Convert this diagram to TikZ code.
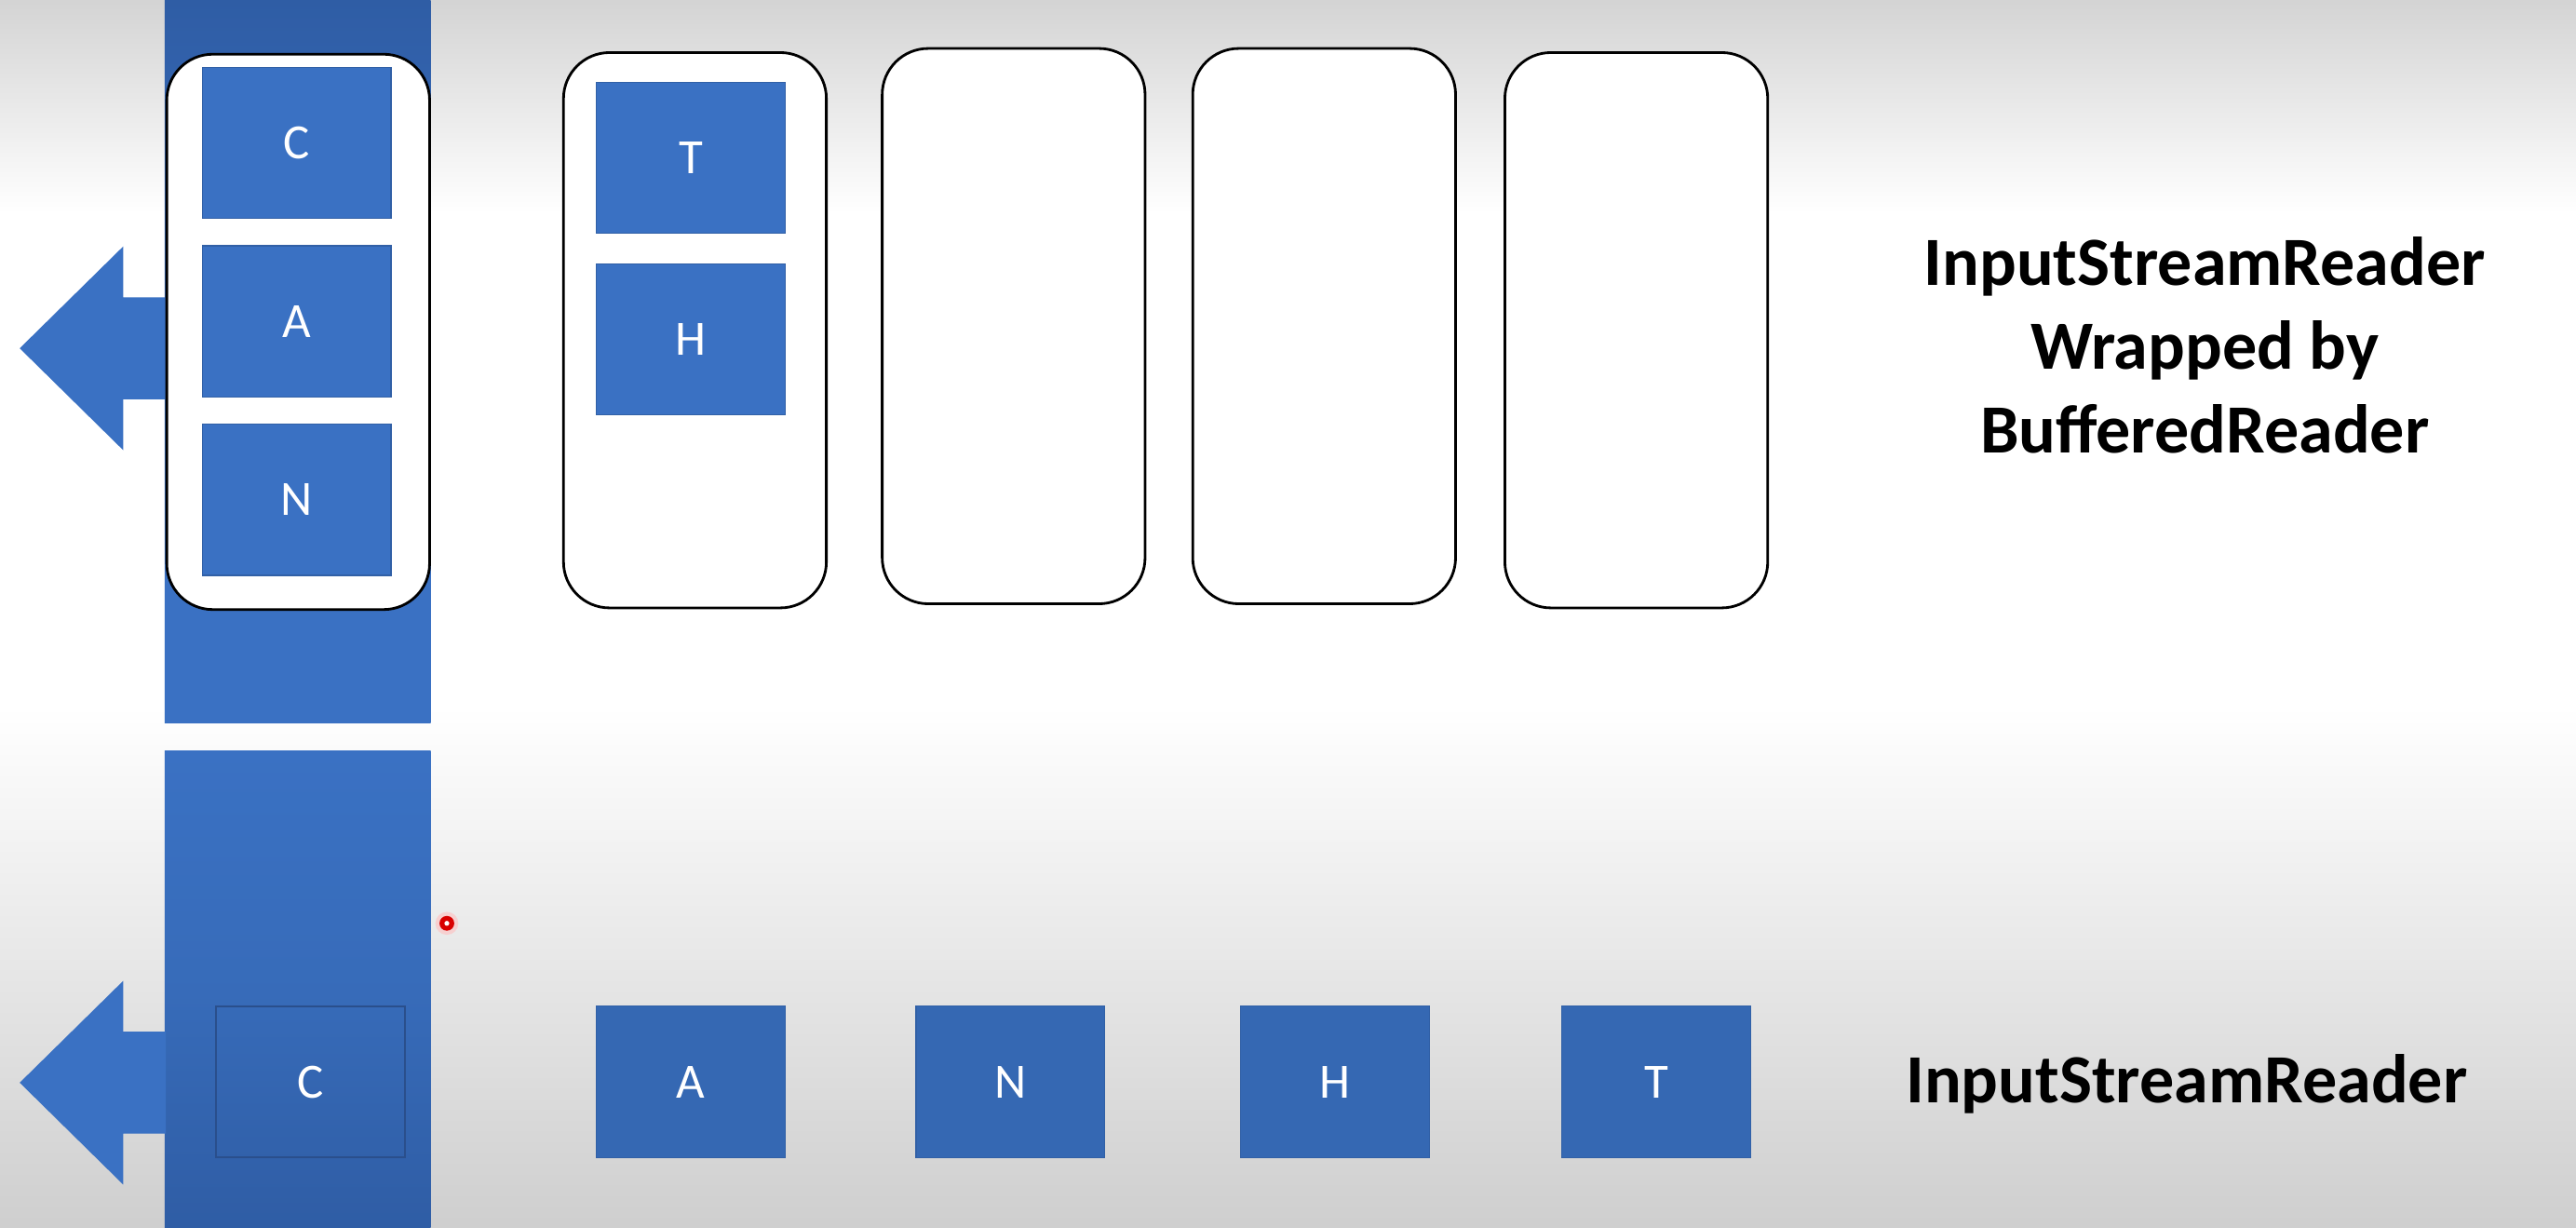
\documentclass[tikz,border=0pt]{standalone}
\usepackage{fontspec}
\setmainfont{Carlito}
\usetikzlibrary{positioning,calc}
\definecolor{boxblue}{HTML}{3A71C3}
\definecolor{bardark}{HTML}{2F5DA5}
\definecolor{edgeblue}{HTML}{2A4F8C}
\newcommand{\isr}{InputStreamReader}

\begin{document}
\begin{tikzpicture}[x=1pt,y=-1pt,node distance=16pt,
  bar/.style={rectangle,inner sep=0pt,minimum width=162pt,anchor=north west},
  cell/.style={rectangle,fill=boxblue,draw=boxblue!85!black,line width=0.6pt,minimum width=115pt,minimum height=92pt,inner sep=0pt,text=white,font=\fontsize{30}{36}\selectfont},
  slot/.style={rectangle,draw=black,line width=1.6pt,fill=white,rounded corners=28pt,minimum width=160pt,minimum height=338pt},
  rdrtext/.style={font=\bfseries\fontsize{42}{51}\selectfont,align=center}]
%
\useasboundingbox (0,0) rectangle (1568,747);
\fill[top color=black!17,bottom color=white] (0,0) rectangle (1568,130);
\fill[white] (0,130) rectangle (1568,430);
\fill[top color=white,bottom color=black!19] (0,430) rectangle (1568,747);
%
  \node[bar,minimum height=440pt,top color=bardark,bottom color=boxblue,middle color=boxblue] (bartop) at (100,0) {};
  \node[bar,minimum height=290pt,top color=boxblue,bottom color=bardark,middle color=boxblue!95!black] (barbot) at (100,457) {};
  \foreach \y in {212,659}
    \fill[boxblue] (101,\y-31) -- (75,\y-31) -- (75,\y-62) -- (12,\y) -- (75,\y+62) -- (75,\y+31) -- (101,\y+31) -- cycle;
%
  \node[slot] (buf1) at (181.5,202) {};
  \node[cell] (c) at (180.5,87) {C};
  \node[cell,below=of c] (a) {A};
  \node[cell,below=of a] (n) {N};
%
  \foreach \x/\y [count=\i from 2] in {423/201,617/198.5,806/198.5,996/201}
    \node[slot] (buf\i) at (\x,\y) {};
  \node[cell] (t) at (420.5,96) {T};
  \node[cell,below=18pt of t] (h) {H};
  \node[rdrtext] (wrapped) at (1342,210) {\isr\\Wrapped by\\BufferedReader};
%
  \node[cell,fill=none,draw=edgeblue,line width=1pt] (c0) at (189,658.5) {C};
  \node[cell,fill=boxblue!92!black] (a0) at (420.5,658.5) {A};
  \node[cell,fill=boxblue!92!black,right=79pt of a0] (n0) {N};
  \node[cell,fill=boxblue!92!black,right=82pt of n0] (h0) {H};
  \node[cell,fill=boxblue!92!black,right=80pt of h0] (t0) {T};
  \node[rdrtext] (plain) at (1331,660) {\isr};
%
  \fill[red!25,opacity=0.6] (272,562) circle (7pt);
  \fill[red!85!black] (272,562) circle (4.5pt);
  \fill[white] (272,562) circle (1.5pt);
\end{tikzpicture}
\end{document}
